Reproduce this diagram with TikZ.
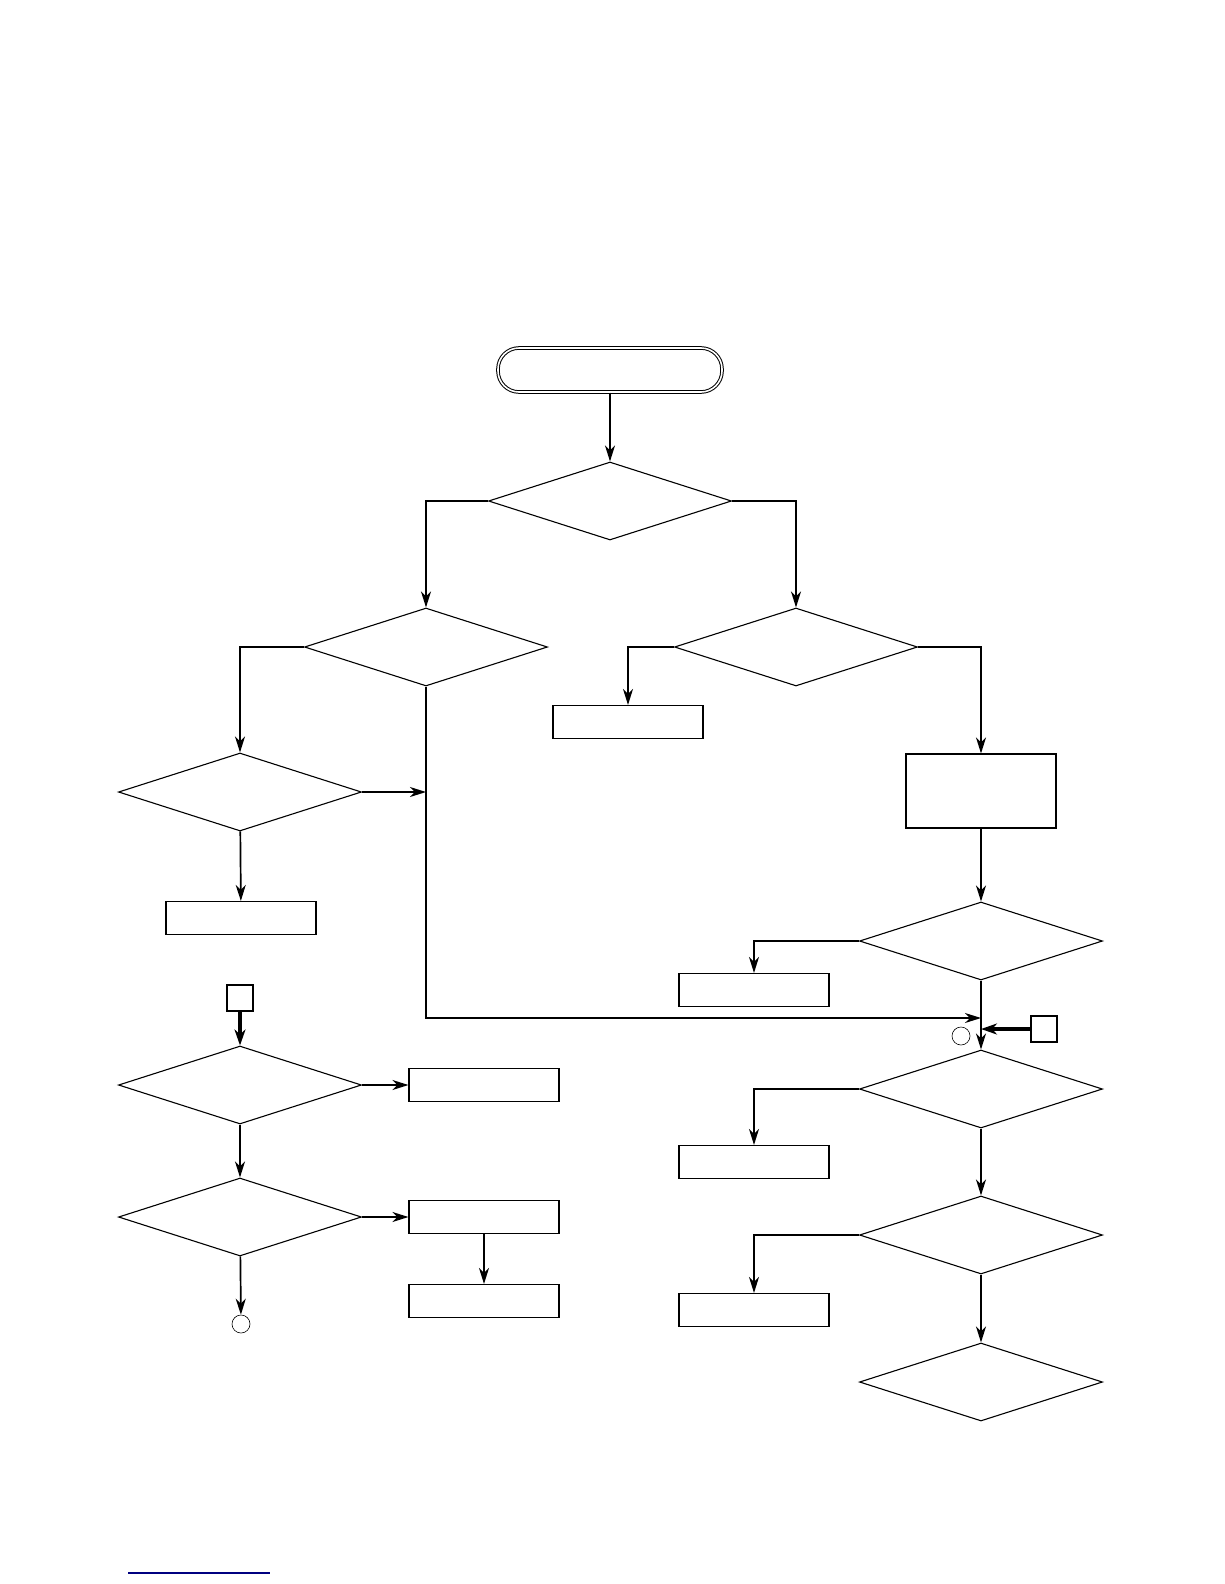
\documentclass[tikz,border=0pt]{standalone}
\usetikzlibrary{shapes.geometric,arrows.meta}
\begin{document}
\begin{tikzpicture}[x=1pt, y=-1pt,
  line width=1.1pt,
  term/.style={draw, double, double distance=1.6pt, line width=1pt, rounded corners=21pt, minimum width=224pt, minimum height=44pt},
  test/.style={draw, diamond, inner sep=0pt, minimum width=243pt, minimum height=78pt},
  proc/.style={draw, rectangle, inner sep=0pt, minimum width=150pt, minimum height=33pt},
  conn/.style={draw, circle, line width=0.6pt, inner sep=0pt, minimum size=18pt},
  jump/.style={draw, rectangle, line width=1.8pt, inner sep=0pt, minimum size=26pt},
  arr/.style={-{Stealth[length=16pt, width=10pt, inset=5pt]}, line width=1.7pt},
  heavy/.style={-{Stealth[length=16pt, width=11pt, inset=5pt]}, line width=3.2pt}]
\useasboundingbox (0,0) rectangle (1224,1584);
% start and first tests
\node[term] (start) at (610,370) {};
\node[test] (d1) at (610,501) {};
\node[test] (d2) at (426,647) {};
\node[test] (d3) at (796,647) {};
\node[test] (d4) at (240,792) {};
\node[proc] (b1) at (241,918) {};
\node[proc] (b2) at (628,722) {};
\node[proc, minimum height=74pt] (b3) at (981,791) {};
% right column
\foreach \n/\y in {d5/941, d6/1089, d7/1235, d8/1382}
  \node[test] (\n) at (981,\y) {};
\foreach \n/\y in {b4/990, b5/1162, b6/1310}
  \node[proc] (\n) at (754,\y) {};
\node[jump] (sqr) at (1044,1029) {};
\node[conn] (cr) at (961,1036) {};
\coordinate (jn) at (981,1018);
% left column
\node[jump] (sql) at (240,998) {};
\node[test] (d9) at (240,1085) {};
\node[test] (d10) at (240,1217) {};
\node[proc] (b7) at (484,1085) {};
\node[proc] (b8) at (484,1217) {};
\node[proc] (b9) at (484,1301) {};
\node[conn] (cl) at (241,1324) {};
% connectors
\draw[arr] (start) -- (d1);
\draw[arr] (d1.west) -| (d2.north);
\draw[arr] (d1.east) -| (d3.north);
\draw[arr] (d2.west) -| (d4.north);
\draw[arr] (d4.east) -- (d4.east -| d2.south);
\draw[arr, line width=1.2pt] (d2.south) |- (jn);
\draw[arr] (d4) -- (b1);
\draw[arr] (d3.west) -| (b2.north);
\draw[arr] (d3.east) -| (b3.north);
\draw[arr] (b3) -- (d5);
\draw[arr] (d5.west) -| (b4.north);
\draw[arr] (d5) -- (d6);
\draw[heavy] (sqr.west) -- (sqr.west -| d5.south);
\draw[arr] (d6.west) -| (b5.north);
\draw[arr] (d6) -- (d7);
\draw[arr] (d7.west) -| (b6.north);
\draw[arr] (d7) -- (d8);
\draw[heavy] (sql) -- (d9);
\draw[arr] (d9.east) -- (b7.west);
\draw[arr] (d9) -- (d10);
\draw[arr] (d10.east) -- (b8.west);
\draw[arr] (b8) -- (b9);
\draw[arr] (d10) -- (cl);
% link underline
\draw[blue!50!black, line width=1.3pt] (128,1573) -- (270,1573);
\end{tikzpicture}
\end{document}
